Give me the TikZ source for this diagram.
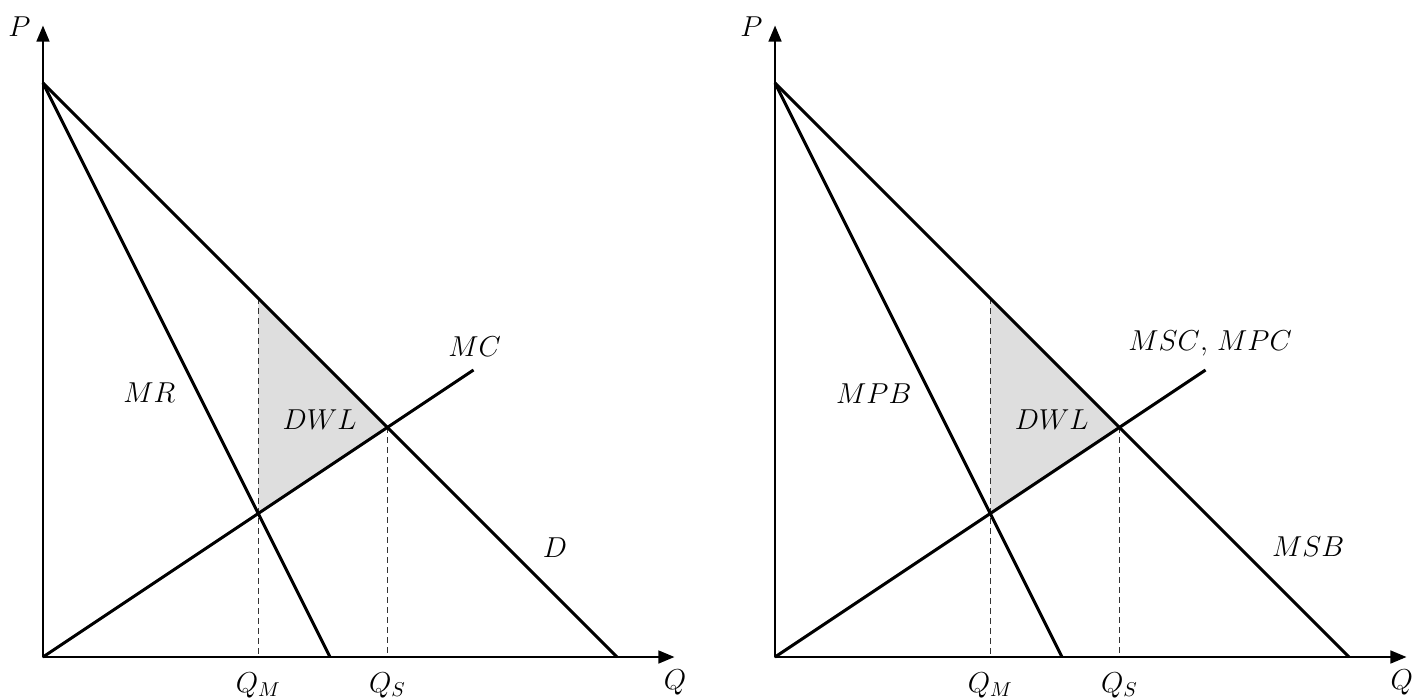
\documentclass[tikz,border=0pt]{standalone}
\usepackage{tikz}
\usetikzlibrary{arrows.meta,calc}
\tikzset{
  >={Triangle[length=8pt,width=6.5pt]},
  every picture/.style={line join=round},
  lbl/.style={font=\fontsize{14.4}{17}\selectfont, inner sep=0pt},
  axisline/.style={black, line width=0.75pt, <->},
  curve/.style={black, line width=1.5pt},
  guide/.style={black!80, line width=0.55pt, dash pattern=on 3pt off 2pt},
  dwl/.style={fill=black!13},
}

\begin{document}
\begin{tikzpicture}[x=28.7pt, y=28.7pt]
\useasboundingbox (-0.749,-0.732) rectangle (23.902,11.446);
% the two markets, same lines
\foreach \p/\sx/\qx in {L/0/11.01, R/12.753/10.92} {
  \begin{scope}[xshift=\sx*28.7pt]
    \coordinate (\p-O) at (0,0);
    \coordinate (\p-Ptop) at (0,11);
    \coordinate (\p-Qend) at (11,0);
    \coordinate (\p-A) at (0,10);
    \coordinate (\p-D0) at (10,0);
    \coordinate (\p-MR0) at (5,0);
    \coordinate (\p-MC1) at (7.5,5);
    \coordinate (\p-M) at (3.75,2.5);
    \coordinate (\p-S) at (6,4);
    \coordinate (\p-MD) at (3.75,6.25);
    % deadweight loss
    \fill[dwl] (\p-MD) -- (\p-S) -- (\p-M) -- cycle;
    \draw[guide] (\p-MD) -- (\p-MD |- \p-O);
    \draw[guide] (\p-S) -- (\p-S |- \p-O);
    \draw[curve] (\p-A) -- (\p-D0);
    \draw[curve] (\p-A) -- (\p-MR0);
    \draw[curve] (\p-O) -- (\p-MC1);
    \draw[axisline] (\p-Ptop) -- (\p-O) -- (\p-Qend);
    % axis labels
    \node[lbl] (\p-Plbl) at (-0.41,10.99) {$P$};
    \node[lbl] (\p-Qlbl) at (\qx,-0.45) {$Q$};
    \node[lbl] (\p-QMlbl) at (3.75,-0.49) {$Q_M$};
    \node[lbl] (\p-QSlbl) at (6,-0.49) {$Q_S$};
    \node[lbl] (\p-DWL) at (4.82,4.14) {$DWL$};
  \end{scope}
}
% monopoly
\node[lbl] (mr) at (1.855,4.60) {$MR$};
\node[lbl] (mc) at (7.52,5.40) {$MC$};
\node[lbl] (dem) at (8.92,1.90) {$D$};
% externality
\begin{scope}[xshift=12.753*28.7pt]
  \node[lbl] (mpb) at (1.72,4.59) {$MPB$};
  \node[lbl] (msc) at (7.58,5.47) {$MSC$, $MPC$};
  \node[lbl] (msb) at (9.29,1.93) {$MSB$};
\end{scope}
\end{tikzpicture}
\end{document}
